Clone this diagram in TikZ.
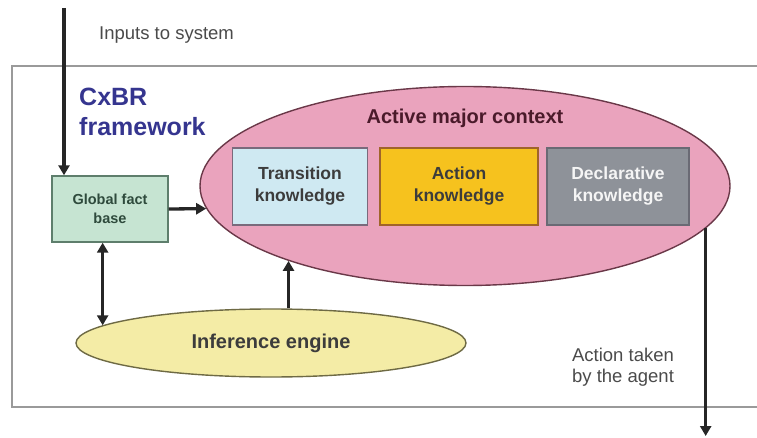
\documentclass[tikz,border=0pt]{standalone}
\usepackage{fontspec}
\setmainfont{Liberation Sans}
\usetikzlibrary{shapes.geometric,arrows.meta,calc}
\definecolor{framec}{HTML}{9A9A9A}
\definecolor{greenf}{HTML}{C6E4D2}
\definecolor{greend}{HTML}{5E7E6C}
\definecolor{greent}{HTML}{2E4A3C}
\definecolor{pinkf}{HTML}{EAA3BD}
\definecolor{pinkd}{HTML}{6A3848}
\definecolor{bluef}{HTML}{CFE9F2}
\definecolor{blued}{HTML}{7A6A7C}
\definecolor{orangef}{HTML}{F6C21E}
\definecolor{oranged}{HTML}{A0642A}
\definecolor{grayf}{HTML}{8E9299}
\definecolor{grayd}{HTML}{6A6A74}
\definecolor{yellowf}{HTML}{F4ECA6}
\definecolor{yellowd}{HTML}{6E6A44}
\definecolor{cxbr}{HTML}{35358F}
\definecolor{ctxt}{HTML}{4A1A2A}
\definecolor{darkt}{HTML}{3C3C3C}
\definecolor{txtgray}{HTML}{4A4A4A}
\tikzset{
  x=1pt, y=-1pt,
  tip/.tip={Triangle[width=11pt,length=10pt]},
  conn/.style={line width=3.3pt, draw=black!85, -tip},
  kbox/.style={rectangle, line width=1.4pt, minimum width=#1, minimum height=77pt, align=center, inner sep=0pt},
  plain/.style={font=\fontsize{18.5}{21}\selectfont, text=txtgray, inner sep=0pt},
}
\begin{document}
\begin{tikzpicture}
\useasboundingbox (0,0) rectangle (757,438);
% frame
\draw[framec, line width=1.8pt] (757,66) -- (12,66) -- (12,407) -- (757,407);

\node[plain, anchor=west] (inputs) at (99,35) {Inputs to system};
\node[font=\fontsize{25}{30}\selectfont\bfseries, text=cxbr, align=left, anchor=west, inner sep=0pt] (cxbr) at (79,112) {CxBR\\framework};

% context ellipse
\node[ellipse, fill=pinkf, draw=pinkd, line width=1.4pt, minimum width=530pt, minimum height=199pt, inner sep=0pt] (ctx) at (465,186) {};
\node[font=\fontsize{20}{24}\selectfont\bfseries, text=ctxt, inner sep=0pt] (ctxl) at (465,118) {Active major context};

\node[kbox=135pt, fill=bluef, draw=blued, font=\fontsize{17.5}{22}\selectfont\bfseries, text=darkt] (trans) at (300,186.5) {Transition\\knowledge};
\node[kbox=158pt, fill=orangef, draw=oranged, font=\fontsize{17.5}{22}\selectfont\bfseries, text=darkt] (act) at (459,186.5) {Action\\knowledge};
\node[kbox=142pt, fill=grayf, draw=grayd, font=\fontsize{17.5}{22}\selectfont\bfseries, text=white!92!gray] (decl) at (618,186.5) {Declarative\\knowledge};

% global fact base
\node[rectangle, fill=greenf, draw=greend, line width=1.4pt, minimum width=116pt, minimum height=66pt, align=center, inner sep=0pt, font=\fontsize{14.5}{19}\selectfont\bfseries, text=greent] (gfb) at (110,209) {Global fact\\base};

% inference engine
\node[ellipse, fill=yellowf, draw=yellowd, line width=1.4pt, minimum width=390pt, minimum height=68pt, inner sep=0pt, font=\fontsize{20}{24}\selectfont\bfseries, text=darkt] (inf) at (271,343) {Inference engine};

\node[plain, align=center] (acttxt) at (623,367) {Action taken\\by the agent};

% connectors
\coordinate (in) at (64,8);
\coordinate (out) at (703,436);
\draw[conn] (in) -- (in |- gfb.north);
\draw[conn] (gfb.east) -- (ctx.185);
\draw[conn, tip-tip] (gfb.south -| inf.174.7) -- (inf.174.7);
\draw[conn] (inf.north -| ctx.203.8) -- (ctx.203.8);
\draw[conn, line width=2.6pt] (ctx.-10.4) -- (ctx.-10.4 |- out);
\end{tikzpicture}
\end{document}
